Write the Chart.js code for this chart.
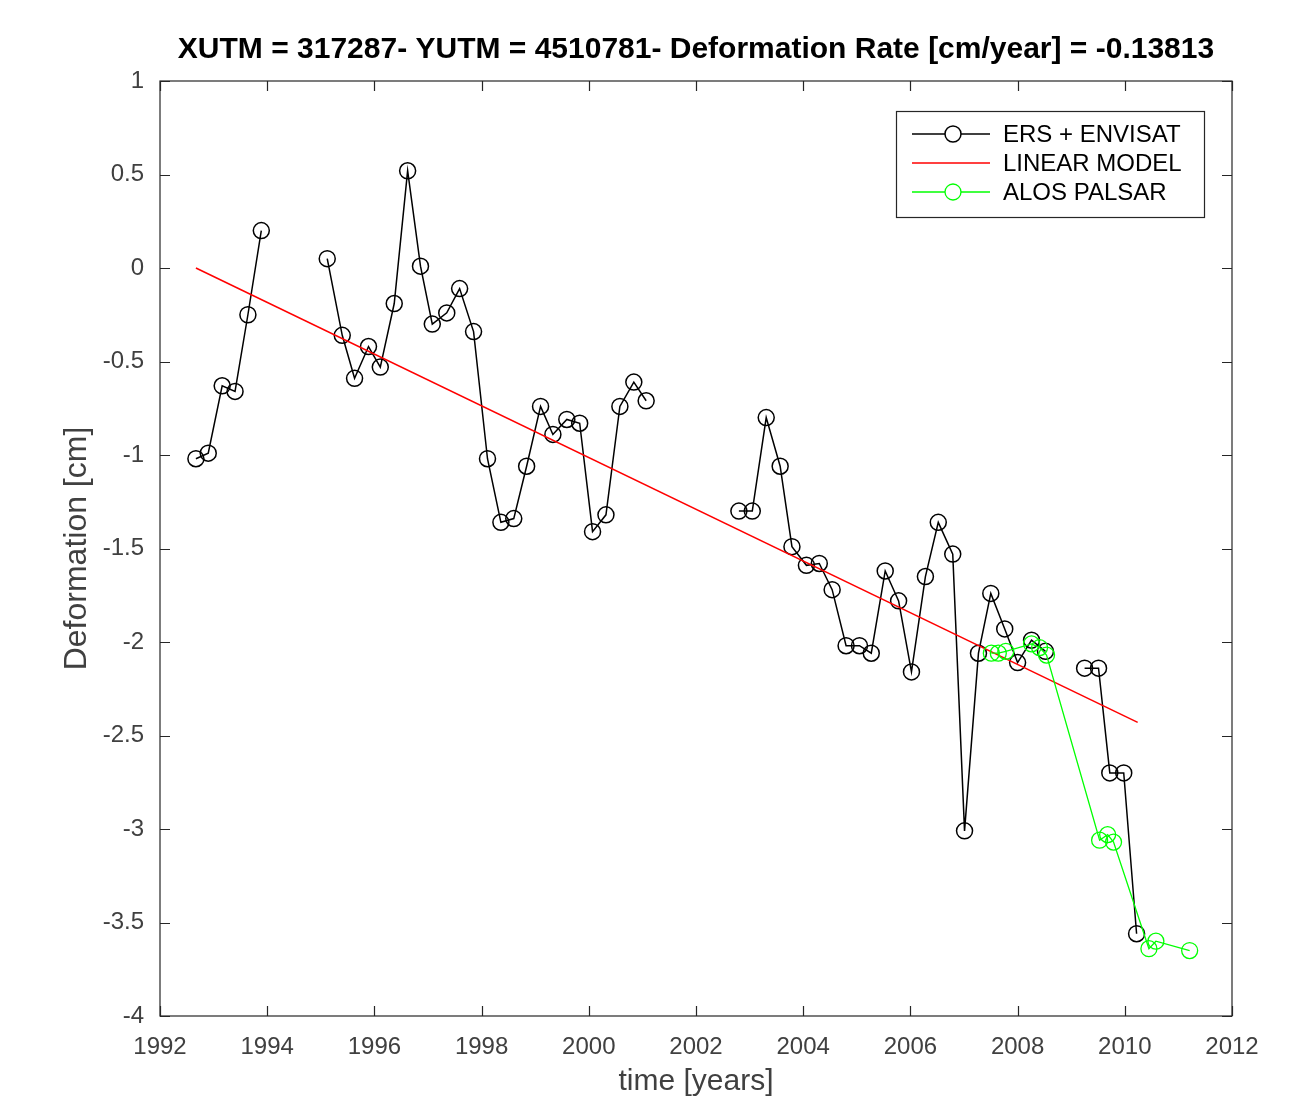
<!DOCTYPE html>
<html>
<head>
<meta charset="utf-8">
<title>Deformation time series</title>
<script src="https://cdn.jsdelivr.net/npm/chart.js"></script>
<style>
  body { margin: 0; background: #ffffff; }
  #wrap { width: 1300px; height: 1100px; position: relative; }
</style>
</head>
<body>
<div id="wrap"><canvas id="defChart"></canvas></div>
<script>
// ─────────────────────────────────────────────
// DATA
// null value = gap in the acquisition series
// ─────────────────────────────────────────────
const ersYears = [
  1992.67, 1992.90, 1993.16, 1993.40, 1993.64, 1993.89,
  1994.5,
  1995.12, 1995.40, 1995.63, 1995.89, 1996.11, 1996.37, 1996.62, 1996.86,
  1997.08, 1997.35, 1997.59, 1997.85, 1998.11, 1998.36, 1998.60, 1998.84,
  1999.10, 1999.33, 1999.59, 1999.83, 2000.07, 2000.32, 2000.58, 2000.84, 2001.07,
  2002.0,
  2002.80, 2003.05, 2003.31, 2003.57, 2003.79, 2004.06, 2004.30, 2004.54,
  2004.80, 2005.05, 2005.27, 2005.53, 2005.78, 2006.02, 2006.28, 2006.52,
  2006.79, 2007.01, 2007.27, 2007.50, 2007.76, 2008.00, 2008.26, 2008.52,
  2008.9,
  2009.25, 2009.51, 2009.72, 2009.98, 2010.22
];
const ersValues = [
  -1.02, -0.99, -0.63, -0.66, -0.25, 0.20,
  null,
  0.05, -0.36, -0.59, -0.42, -0.53, -0.19, 0.52, 0.01,
  -0.30, -0.24, -0.11, -0.34, -1.02, -1.36, -1.34, -1.06,
  -0.74, -0.89, -0.81, -0.83, -1.41, -1.32, -0.74, -0.61, -0.71,
  null,
  -1.30, -1.30, -0.80, -1.06, -1.49, -1.59, -1.58, -1.72,
  -2.02, -2.02, -2.06, -1.62, -1.78, -2.16, -1.65, -1.36,
  -1.53, -3.01, -2.06, -1.74, -1.93, -2.11, -1.99, -2.05,
  null,
  -2.14, -2.14, -2.70, -2.70, -3.56
];

const modelYears = [1992.67, 2010.24];
const modelValues = [0.0, -2.43];

const alosYears = [
  2007.51, 2007.64, 2007.78, 2008.26, 2008.41, 2008.54,
  2009.53, 2009.68, 2009.79, 2010.45, 2010.58, 2011.21
];
const alosValues = [
  -2.06, -2.06, -2.05, -2.01, -2.03, -2.07,
  -3.06, -3.03, -3.07, -3.64, -3.60, -3.65
];

const xTicks = [1992, 1994, 1996, 1998, 2000, 2002, 2004, 2006, 2008, 2010, 2012];
const yTicks = [1, 0.5, 0, -0.5, -1, -1.5, -2, -2.5, -3, -3.5, -4];

const titleText = 'XUTM = 317287- YUTM = 4510781- Deformation Rate [cm/year] = -0.13813';

function toPoints(xs, ys) {
  return xs.map((x, i) => ({ x: x, y: ys[i] }));
}

// ─────────────────────────────────────────────
// TITLE, BOX, INWARD TICKS AND LEGEND (matlab look)
// ─────────────────────────────────────────────
const matlabFrame = {
  id: 'matlabFrame',
  afterDatasetsDraw(chart) {
    const { ctx, chartArea: a, scales } = chart;
    ctx.save();

    // title centred over the axes
    ctx.fillStyle = '#000000';
    ctx.font = 'bold 30px "Liberation Sans", Arial, sans-serif';
    ctx.textAlign = 'center';
    ctx.textBaseline = 'middle';
    ctx.fillText(titleText, (a.left + a.right) / 2, 50);

    ctx.strokeStyle = '#262626';
    ctx.lineWidth = 1.2;
    ctx.strokeRect(a.left, a.top, a.right - a.left, a.bottom - a.top);

    ctx.beginPath();
    scales.x.ticks.forEach(t => {
      const px = Math.round(scales.x.getPixelForValue(t.value)) + 0.5;
      ctx.moveTo(px, a.bottom); ctx.lineTo(px, a.bottom - 10);
      ctx.moveTo(px, a.top); ctx.lineTo(px, a.top + 10);
    });
    scales.y.ticks.forEach(t => {
      const py = Math.round(scales.y.getPixelForValue(t.value)) + 0.5;
      ctx.moveTo(a.left, py); ctx.lineTo(a.left + 10, py);
      ctx.moveTo(a.right, py); ctx.lineTo(a.right - 10, py);
    });
    ctx.stroke();

    // legend box
    const lx = 896, ly = 111, lw = 308, lh = 106;
    ctx.fillStyle = '#ffffff';
    ctx.fillRect(lx, ly, lw, lh);
    ctx.strokeStyle = '#262626';
    ctx.lineWidth = 1.2;
    ctx.strokeRect(lx + 0.5, ly + 0.5, lw, lh);

    chart.data.datasets.forEach((ds, i) => {
      const cy = 134 + i * 29;
      ctx.strokeStyle = ds.borderColor;
      ctx.lineWidth = ds.borderWidth;
      ctx.beginPath();
      ctx.moveTo(912, cy); ctx.lineTo(990, cy);
      ctx.stroke();
      if (ds.pointRadius > 0) {
        ctx.beginPath();
        ctx.arc(953, cy, ds.pointRadius, 0, Math.PI * 2);
        ctx.fillStyle = '#ffffff';
        ctx.fill();
        ctx.stroke();
      }
      ctx.fillStyle = '#000000';
      ctx.font = '24px "Liberation Sans", Arial, sans-serif';
      ctx.textBaseline = 'middle';
      ctx.textAlign = 'left';
      ctx.fillText(ds.label, 1003, cy + 1);
    });
    ctx.restore();
  }
};

// ─────────────────────────────────────────────
// CHART
// ─────────────────────────────────────────────
const ctx = document.getElementById('defChart').getContext('2d');

new Chart(ctx, {
  type: 'scatter',
  data: {
    datasets: [
      {
        label: 'ERS + ENVISAT',
        data: toPoints(ersYears, ersValues),
        showLine: true,
        spanGaps: false,
        borderColor: '#000000',
        borderWidth: 1.5,
        pointRadius: 8,
        pointBorderWidth: 1.5,
        pointBackgroundColor: 'rgba(0,0,0,0)',
        pointBorderColor: '#000000',
        order: 3
      },
      {
        label: 'LINEAR MODEL',
        data: toPoints(modelYears, modelValues),
        showLine: true,
        borderColor: '#ff0000',
        borderWidth: 1.5,
        pointRadius: 0,
        order: 2
      },
      {
        label: 'ALOS PALSAR',
        data: toPoints(alosYears, alosValues),
        showLine: true,
        borderColor: '#00ff00',
        borderWidth: 1.3,
        pointRadius: 8,
        pointBorderWidth: 1.3,
        pointBackgroundColor: 'rgba(0,0,0,0)',
        pointBorderColor: '#00ff00',
        order: 1
      }
    ]
  },
  options: {
    responsive: true,
    maintainAspectRatio: false,
    animation: false,
    layout: { padding: { left: 0, right: 68, top: 81, bottom: 0 } },
    plugins: {
      legend: { display: false },
      tooltip: { enabled: false },
      title: { display: false }
    },
    scales: {
      x: {
        type: 'linear',
        min: 1992,
        max: 2012,
        afterBuildTicks: (scale) => { scale.ticks = xTicks.map(v => ({ value: v })); },
        afterFit: (scale) => { scale.height = 84; },
        grid: { display: false },
        border: { display: false },
        ticks: {
          color: '#404040',
          padding: 9,
          maxRotation: 0,
          font: { family: '"Liberation Sans", Arial, sans-serif', size: 24 },
          callback: (v) => String(v)
        },
        title: {
          display: true,
          text: 'time [years]',
          color: '#404040',
          font: { family: '"Liberation Sans", Arial, sans-serif', size: 30 },
          padding: { top: 0, bottom: 0 }
        }
      },
      y: {
        type: 'linear',
        min: -4,
        max: 1,
        afterBuildTicks: (scale) => { scale.ticks = yTicks.map(v => ({ value: v })); },
        afterFit: (scale) => { scale.width = 160; },
        grid: { display: false },
        border: { display: false },
        ticks: {
          color: '#404040',
          padding: 8,
          font: { family: '"Liberation Sans", Arial, sans-serif', size: 24 },
          callback: (v) => String(v)
        },
        title: {
          display: true,
          text: 'Deformation [cm]',
          color: '#404040',
          font: { family: '"Liberation Sans", Arial, sans-serif', size: 32 },
          padding: { top: 58, bottom: 0 }
        }
      }
    }
  },
  plugins: [matlabFrame]
});
</script>
</body>
</html>
